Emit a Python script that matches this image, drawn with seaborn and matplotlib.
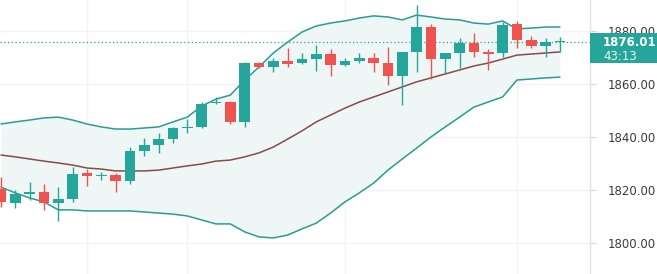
import matplotlib
matplotlib.use("Agg")
import matplotlib.pyplot as plt
import matplotlib.transforms as mtransforms
from matplotlib.patches import Rectangle
import numpy as np
import pandas as pd
import seaborn as sns

# ---- data ----
opens = [1820.4, 1815.1, 1818.5, 1819.2, 1815.1, 1816.6, 1826.4, 1825.3, 1825.7, 1823.4,
         1834.7, 1837.0, 1839.2, 1843.4, 1843.8, 1852.8, 1853.2, 1845.7, 1867.9, 1866.4,
         1868.7, 1867.9, 1869.4, 1871.3, 1867.2, 1868.7, 1869.8, 1867.9, 1863.0, 1872.1,
         1881.5, 1869.4, 1871.7, 1875.5, 1872.1, 1871.7, 1882.6, 1876.6, 1874.3, 1875.8]
highs = [1824.9, 1820.0, 1823.0, 1822.3, 1821.1, 1828.7, 1827.9, 1826.8, 1826.4, 1836.2,
         1839.6, 1841.5, 1843.8, 1846.8, 1853.2, 1855.1, 1853.5, 1868.2, 1868.3, 1869.8,
         1873.6, 1871.7, 1874.7, 1873.2, 1869.8, 1871.7, 1871.7, 1874.0, 1872.1, 1889.8,
         1882.6, 1871.7, 1877.4, 1879.2, 1873.2, 1883.4, 1883.8, 1878.1, 1877.4, 1877.7]
lows = [1813.6, 1813.2, 1816.2, 1812.5, 1808.3, 1815.5, 1821.5, 1823.8, 1819.2, 1822.3,
        1832.8, 1834.0, 1837.7, 1841.5, 1843.4, 1852.5, 1844.9, 1843.8, 1866.0, 1864.5,
        1866.4, 1867.5, 1864.9, 1863.0, 1866.8, 1867.9, 1864.5, 1859.6, 1852.1, 1864.5,
        1861.9, 1864.2, 1866.0, 1870.2, 1865.3, 1870.2, 1873.6, 1873.6, 1870.2, 1872.1]
closes = [1815.5, 1818.5, 1819.2, 1815.1, 1816.6, 1826.0, 1825.3, 1825.7, 1823.4, 1834.7,
          1837.0, 1839.2, 1843.4, 1843.8, 1852.5, 1853.2, 1845.7, 1867.9, 1866.4, 1868.7,
          1867.5, 1869.4, 1871.3, 1867.2, 1868.7, 1869.8, 1867.9, 1863.0, 1872.1, 1881.5,
          1869.4, 1871.7, 1875.5, 1872.1, 1871.3, 1882.3, 1876.6, 1874.3, 1875.8, 1876.01]

bb_upper = [1844.9, 1845.7, 1846.4, 1847.2, 1847.5, 1846.4, 1844.9, 1843.8, 1843.0, 1843.0,
            1843.4, 1843.8, 1845.7, 1847.5, 1851.7, 1854.3, 1855.8, 1861.5, 1866.4, 1871.7,
            1875.8, 1879.6, 1881.9, 1883.0, 1883.8, 1884.9, 1885.7, 1885.3, 1884.2, 1886.0,
            1885.3, 1884.5, 1884.2, 1883.0, 1882.6, 1883.8, 1880.8, 1881.1, 1881.5, 1881.5]
bb_mid = [1833.2, 1832.5, 1831.7, 1830.9, 1830.2, 1829.4, 1828.3, 1827.9, 1827.2, 1827.2,
          1827.2, 1827.5, 1828.3, 1829.1, 1829.8, 1830.9, 1831.3, 1832.5, 1834.0, 1836.2,
          1839.2, 1842.3, 1845.7, 1848.3, 1850.9, 1853.2, 1855.1, 1857.0, 1858.9, 1860.8,
          1862.3, 1863.8, 1865.3, 1866.8, 1867.9, 1869.4, 1870.9, 1871.3, 1871.7, 1872.1]
bb_lower = [1821.1, 1818.9, 1817.0, 1815.5, 1812.5, 1812.5, 1812.1, 1812.1, 1812.1, 1812.1,
            1811.7, 1811.3, 1810.9, 1810.2, 1808.7, 1807.2, 1807.2, 1804.2, 1802.3, 1801.9,
            1803.0, 1805.3, 1807.5, 1811.3, 1815.5, 1818.9, 1822.6, 1827.5, 1831.7, 1835.8,
            1840.0, 1843.8, 1847.5, 1851.3, 1853.2, 1855.1, 1861.5, 1861.9, 1862.3, 1862.6]

y_ticks = [1800, 1820, 1840, 1860, 1880]
last_price = 1876.01
countdown = "43:13"
vgrid_bars = [6, 13, 24, 36]

# ---- styling ----
GREEN = "#26a69a"
RED = "#ef5350"
BAND = "#2a9d90"
MID = "#8a4a4a"
FILL = "#eff6f6"
GRID = "#f0f3fa"

sns.set_theme(style="white")
plt.rcParams["font.family"] = ["DejaVu Sans"]

n = len(closes)
idx = np.arange(n)
df = pd.DataFrame({"i": idx, "open": opens, "high": highs, "low": lows, "close": closes,
                   "upper": bb_upper, "mid": bb_mid, "lower": bb_lower})

fig = plt.figure(figsize=(6.57, 2.74), dpi=100)
ax = fig.add_axes([0, 0, 590 / 657, 1])

# grid
for v in y_ticks:
    ax.axhline(v, color=GRID, lw=1, zorder=0)
for b in vgrid_bars:
    ax.axvline(b, color=GRID, lw=1, zorder=0)

# bands
ax.fill_between(df["i"], df["lower"], df["upper"], color=FILL, zorder=1, lw=0)
sns.lineplot(data=df, x="i", y="upper", ax=ax, color=BAND, lw=1.1, zorder=2)
sns.lineplot(data=df, x="i", y="lower", ax=ax, color=BAND, lw=1.1, zorder=2)
sns.lineplot(data=df, x="i", y="mid", ax=ax, color=MID, lw=1.1, zorder=2)

# candles
up = df["close"] >= df["open"]
colors = np.where(up, GREEN, RED)
body_bottom = np.minimum(df["open"], df["close"])
body_h = np.maximum(np.abs(df["close"] - df["open"]), 0.45)
ax.vlines(df["i"], df["low"], df["high"], colors=colors, lw=1.0, zorder=3)
ax.bar(df["i"], body_h, bottom=body_bottom, width=0.74, color=colors, lw=0, zorder=4)

# last price dotted line
ax.axhline(last_price, color=GREEN, lw=0.9, ls=(0, (1, 2)), zorder=2)

ax.set_xlim(-0.07, 41.1)
ax.set_ylim(1788.3, 1891.7)
ax.set_xlabel("")
ax.set_ylabel("")
ax.set_xticks([])
ax.yaxis.tick_right()
ax.set_yticks(y_ticks)
ax.set_yticklabels([f"{v:.2f}" for v in y_ticks])
ax.tick_params(axis="y", length=4, width=0.8, color="#d6d6d6", pad=9,
               labelsize=8.5, labelcolor="#3b3b3b", right=True, left=False)
for s in ["top", "left", "bottom"]:
    ax.spines[s].set_visible(False)
ax.spines["right"].set_color("#e0e3eb")
ax.spines["right"].set_linewidth(1)

# price label box
trans = mtransforms.blended_transform_factory(ax.transAxes, ax.transData)
box = Rectangle((1.0, 1867.9), 657 / 590 - 1.0, 1879.2 - 1867.9, transform=trans,
                facecolor=GREEN, edgecolor="none", clip_on=False, zorder=10)
fig.add_artist(box)
fig.text(603 / 657, 1 - 42 / 274, f"{last_price:.2f}", color="white", fontsize=8.5,
         fontweight="bold", va="center", ha="left", zorder=11)
fig.text(603 / 657, 1 - 56 / 274, countdown, color="#e8f5f3", fontsize=8.5,
         va="center", ha="left", zorder=11)

fig.savefig("out.png", dpi=100)
